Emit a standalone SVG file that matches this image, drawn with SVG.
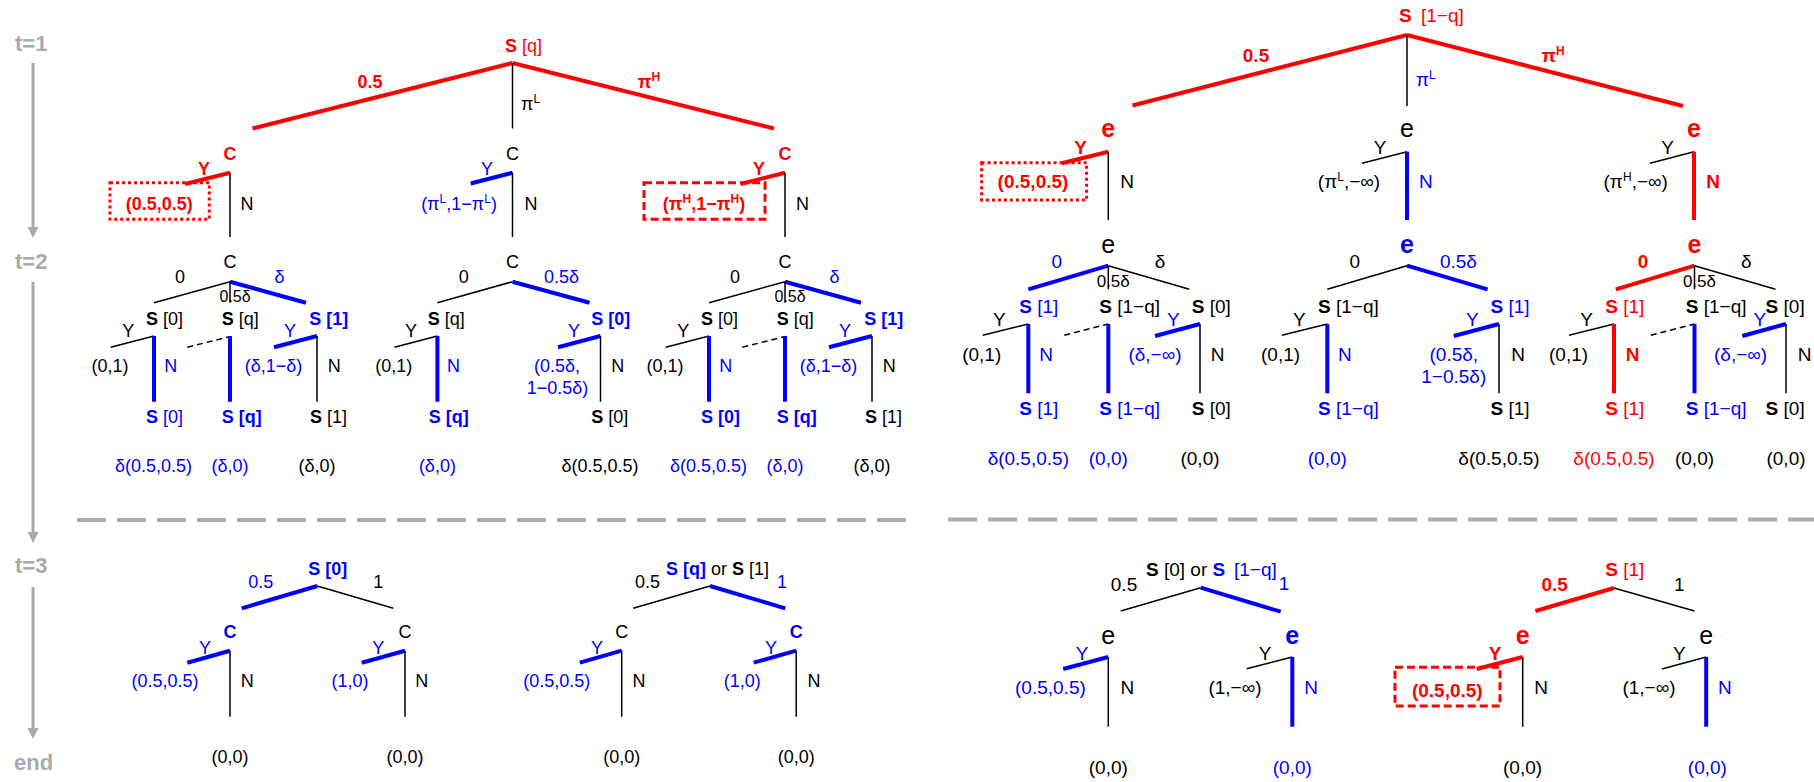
<svg xmlns="http://www.w3.org/2000/svg" width="1814" height="782" viewBox="0 0 1814 782">
<style>
svg{font-family:"Liberation Sans",Arial,Helvetica,sans-serif;font-size:18px}
text{fill:#000}
.rp{font-size:19px}
.m{text-anchor:middle}
.b{font-weight:bold}
.B{fill:#00f}
.R{fill:#f00}
.sm{font-size:16px}
.rp .sm{font-size:17px}
.e{font-size:25px}
.sup{font-size:12px}
.tl{font-size:22px;font-weight:bold;fill:#aaa}
.k{stroke:#000;stroke-width:1.5}
.kb{stroke:#00f;stroke-width:4}
.kr{stroke:#f00;stroke-width:4}
.kd{stroke:#000;stroke-width:1.5;stroke-dasharray:6 4}
.ax{stroke:#aaa;stroke-width:3}
.axh{fill:#aaa}
.sep{stroke:#aaa;stroke-width:4;stroke-dasharray:29 11}
.dot{fill:none;stroke:#f00;stroke-width:3;stroke-dasharray:3 3}
.dash{fill:none;stroke:#f00;stroke-width:3;stroke-dasharray:8 4}
</style>

<g id="timeline">
<text class="tl" x="15" y="51">t=1</text>
<text class="tl" x="15" y="269">t=2</text>
<text class="tl" x="15" y="573">t=3</text>
<text class="tl" x="14" y="770">end</text>
<line class="ax" x1="33" y1="63" x2="33" y2="228"/>
<polygon class="axh" points="27.5,227 38.5,227 33,238"/>
<line class="ax" x1="33" y1="282" x2="33" y2="533"/>
<polygon class="axh" points="27.5,532 38.5,532 33,543"/>
<line class="ax" x1="33" y1="587" x2="33" y2="729"/>
<polygon class="axh" points="27.5,728 38.5,728 33,739"/>
<line class="sep" x1="77" y1="520" x2="906" y2="520"/>
<line class="sep" x1="948" y1="519.5" x2="1814" y2="519.5"/>
</g>

<g id="connectors">
<!-- left t=1 -->
<line class="kr" x1="512.5" y1="63" x2="252.5" y2="128.5"/>
<line class="kr" x1="512.5" y1="63" x2="774" y2="128.5"/>
<line class="k" x1="512.5" y1="63" x2="512.5" y2="128.5"/>
<line class="kr" x1="230" y1="172.7" x2="185" y2="184"/>
<line class="k" x1="230" y1="172.7" x2="230" y2="237"/>
<line class="kb" x1="512.5" y1="172.7" x2="470.7" y2="183.5"/>
<line class="k" x1="512.5" y1="172.7" x2="512.5" y2="237"/>
<line class="kr" x1="785" y1="172.7" x2="740.5" y2="184"/>
<line class="k" x1="785" y1="172.7" x2="785" y2="237"/>
<!-- left t=2 subtree 1 -->
<line class="k" x1="230" y1="281.7" x2="154" y2="302.7"/>
<line class="kb" x1="230" y1="281.7" x2="306" y2="302.7"/>
<line class="k" x1="230" y1="281.7" x2="230" y2="302.7"/>
<line class="k" x1="154" y1="336" x2="110.7" y2="347.3"/>
<line class="kb" x1="154" y1="336" x2="154" y2="401.7"/>
<line class="kd" x1="187.3" y1="347.3" x2="230" y2="336.5"/>
<line class="kb" x1="230" y1="336" x2="230" y2="401.7"/>
<line class="kb" x1="317" y1="336" x2="274" y2="347.3"/>
<line class="k" x1="317" y1="336" x2="317" y2="401.7"/>
<!-- left t=2 subtree 2 -->
<line class="k" x1="512.5" y1="281.7" x2="437.4" y2="302.7"/>
<line class="kb" x1="512.5" y1="281.7" x2="589.6" y2="302.7"/>
<line class="k" x1="437.4" y1="336" x2="394.4" y2="347.3"/>
<line class="kb" x1="437.4" y1="336" x2="437.4" y2="401.7"/>
<line class="kb" x1="600.5" y1="336" x2="558" y2="347.3"/>
<line class="k" x1="600.5" y1="336" x2="600.5" y2="401.7"/>
<!-- left t=2 subtree 3 -->
<line class="k" x1="785" y1="281.7" x2="709" y2="302.7"/>
<line class="kb" x1="785" y1="281.7" x2="861" y2="302.7"/>
<line class="k" x1="785" y1="281.7" x2="785" y2="302.7"/>
<line class="k" x1="709" y1="336" x2="665.7" y2="347.3"/>
<line class="kb" x1="709" y1="336" x2="709" y2="401.7"/>
<line class="kd" x1="742.3" y1="347.3" x2="785" y2="336.5"/>
<line class="kb" x1="785" y1="336" x2="785" y2="401.7"/>
<line class="kb" x1="872" y1="336" x2="829" y2="347.3"/>
<line class="k" x1="872" y1="336" x2="872" y2="401.7"/>
<!-- left t=3 -->
<line class="kb" x1="317.3" y1="586" x2="241.7" y2="608.3"/>
<line class="k" x1="317.3" y1="586" x2="393.3" y2="608.3"/>
<line class="kb" x1="230" y1="650.7" x2="187.3" y2="662.7"/>
<line class="k" x1="230" y1="650.7" x2="230" y2="716.7"/>
<line class="kb" x1="405" y1="650.7" x2="361.7" y2="662.7"/>
<line class="k" x1="405" y1="650.7" x2="405" y2="716.7"/>
<line class="k" x1="710" y1="586" x2="633.2" y2="608.3"/>
<line class="kb" x1="710" y1="586" x2="785.3" y2="608.3"/>
<line class="kb" x1="621.7" y1="650.7" x2="579.8" y2="662.7"/>
<line class="k" x1="621.7" y1="650.7" x2="621.7" y2="716.7"/>
<line class="kb" x1="796.2" y1="650.7" x2="753.7" y2="662.7"/>
<line class="k" x1="796.2" y1="650.7" x2="796.2" y2="716.7"/>
<!-- right t=1 -->
<line class="kr" x1="1407" y1="35" x2="1132.5" y2="105.5"/>
<line class="kr" x1="1407" y1="35" x2="1683" y2="106"/>
<line class="k" x1="1407" y1="35" x2="1407" y2="106"/>
<line class="kr" x1="1108.3" y1="151.7" x2="1061.7" y2="163.3"/>
<line class="k" x1="1108.3" y1="151.7" x2="1108.3" y2="220"/>
<line class="k" x1="1407" y1="151.7" x2="1362" y2="163.3"/>
<line class="kb" x1="1407" y1="151.7" x2="1407" y2="220"/>
<line class="k" x1="1694" y1="151.7" x2="1650" y2="163.3"/>
<line class="kr" x1="1694" y1="151.7" x2="1694" y2="220"/>
<!-- right t=2 subtree 1 -->
<line class="kb" x1="1108.3" y1="265.7" x2="1028.3" y2="289.3"/>
<line class="k" x1="1108.3" y1="265.7" x2="1189.3" y2="289.3"/>
<line class="k" x1="1108.3" y1="265.7" x2="1108.3" y2="289.3"/>
<line class="k" x1="1028.3" y1="324" x2="982.7" y2="335.3"/>
<line class="kb" x1="1028.3" y1="324" x2="1028.3" y2="393.3"/>
<line class="kd" x1="1064.3" y1="335.3" x2="1108.3" y2="324"/>
<line class="kb" x1="1108.3" y1="324" x2="1108.3" y2="393.3"/>
<line class="kb" x1="1200" y1="324" x2="1155" y2="336"/>
<line class="k" x1="1200" y1="324" x2="1200" y2="393.3"/>
<!-- right t=2 subtree 2 -->
<line class="k" x1="1407" y1="265.7" x2="1327.3" y2="289.3"/>
<line class="kb" x1="1407" y1="265.7" x2="1487.6" y2="289.3"/>
<line class="k" x1="1327.3" y1="324" x2="1281.8" y2="335.3"/>
<line class="kb" x1="1327.3" y1="324" x2="1327.3" y2="393.3"/>
<line class="kb" x1="1499" y1="324" x2="1453.8" y2="336"/>
<line class="k" x1="1499" y1="324" x2="1499" y2="393.3"/>
<!-- right t=2 subtree 3 -->
<line class="kr" x1="1694.5" y1="265.7" x2="1615.8" y2="289.3"/>
<line class="k" x1="1694.5" y1="265.7" x2="1775.5" y2="289.3"/>
<line class="k" x1="1694.5" y1="265.7" x2="1694.5" y2="289.3"/>
<line class="k" x1="1614" y1="324" x2="1569" y2="335.3"/>
<line class="kr" x1="1614" y1="324" x2="1614" y2="393.3"/>
<line class="kd" x1="1650.8" y1="335.3" x2="1694.5" y2="324"/>
<line class="kb" x1="1694.5" y1="324" x2="1694.5" y2="393.3"/>
<line class="kb" x1="1786" y1="324" x2="1742.3" y2="336"/>
<line class="k" x1="1786" y1="324" x2="1786" y2="393.3"/>
<!-- right t=3 -->
<line class="k" x1="1200.7" y1="587.7" x2="1120.7" y2="611"/>
<line class="kb" x1="1200.7" y1="587.7" x2="1280.7" y2="611.7"/>
<line class="kb" x1="1108.3" y1="657" x2="1063.2" y2="669"/>
<line class="k" x1="1108.3" y1="657" x2="1108.3" y2="726.7"/>
<line class="k" x1="1292.3" y1="657" x2="1246.7" y2="668.7"/>
<line class="kb" x1="1292.3" y1="657" x2="1292.3" y2="726.7"/>
<line class="kr" x1="1614" y1="588" x2="1535.4" y2="611"/>
<line class="k" x1="1614" y1="588" x2="1694.5" y2="611"/>
<line class="kr" x1="1522.7" y1="657" x2="1476.7" y2="669"/>
<line class="k" x1="1522.7" y1="657" x2="1522.7" y2="726.7"/>
<line class="k" x1="1706.2" y1="657" x2="1661.9" y2="669"/>
<line class="kb" x1="1706.2" y1="657" x2="1706.2" y2="726.7"/>
</g>

<g id="left-panel">
<g id="L-root">
<text class="R" x="505" y="52"><tspan class="b">S</tspan> [q]</text>
<text class="R b m" x="370" y="88">0.5</text>
<text class="R b m" x="649" y="88">π<tspan class="sup" dy="-7">H</tspan></text>
<text x="521" y="110">π<tspan class="sup" dy="-7">L</tspan></text>
</g>
<g id="L-t1-a">
<text class="R b m" x="230" y="160">C</text>
<text class="R b m" x="204" y="175">Y</text>
<rect class="dot" x="110" y="182.7" width="99.3" height="36.6"/>
<text class="R b m" x="159.3" y="210">(0.5,0.5)</text>
<text class="m" x="247" y="210">N</text>
</g>
<g id="L-t1-b">
<text class="m" x="512.5" y="160">C</text>
<text class="B m" x="487" y="175">Y</text>
<text class="B m" x="459" y="210">(π<tspan class="sup" dy="-7">L</tspan><tspan dy="7">,1−π</tspan><tspan class="sup" dy="-7">L</tspan><tspan dy="7">)</tspan></text>
<text class="m" x="531" y="210">N</text>
</g>
<g id="L-t1-c">
<text class="R b m" x="785" y="160">C</text>
<text class="R b m" x="759" y="175">Y</text>
<rect class="dash" x="644" y="182.7" width="121" height="36.6"/>
<text class="R b m" x="704" y="210">(π<tspan class="sup" dy="-7">H</tspan><tspan dy="7">,1−π</tspan><tspan class="sup" dy="-7">H</tspan><tspan dy="7">)</tspan></text>
<text class="m" x="802.5" y="210">N</text>
</g>

<g id="L-t2-a">
<text class="m" x="230" y="268">C</text>
<text class="m" x="180" y="283">0</text>
<text class="B m" x="279.5" y="283">δ</text>
<text class="sm" x="219.5" y="301.5">0.5δ</text>
<text x="146" y="325"><tspan class="b">S</tspan> [0]</text>
<text x="221.7" y="325"><tspan class="b">S</tspan> [q]</text>
<text class="b B" x="309.3" y="325">S [1]</text>
<text class="m" x="128.3" y="337.3">Y</text>
<text class="m" x="110" y="371.7">(0,1)</text>
<text class="B m" x="170.7" y="371.7">N</text>
<text class="B m" x="290" y="337.3">Y</text>
<text class="B m" x="273.5" y="371.7">(δ,1−δ)</text>
<text class="m" x="334.3" y="371.7">N</text>
<text class="B" x="146" y="423.3"><tspan class="b">S</tspan> [0]</text>
<text class="b B" x="221.7" y="423.3">S [q]</text>
<text x="310" y="423.3"><tspan class="b">S</tspan> [1]</text>
<text class="B m" x="153.5" y="471.7">δ(0.5,0.5)</text>
<text class="B m" x="230" y="471.7">(δ,0)</text>
<text class="m" x="317" y="471.7">(δ,0)</text>
</g>
<g id="L-t2-b">
<text class="m" x="512.5" y="268">C</text>
<text class="m" x="463.8" y="283">0</text>
<text class="B m" x="561.4" y="283">0.5δ</text>
<text x="427.7" y="325"><tspan class="b">S</tspan> [q]</text>
<text class="b B" x="591.3" y="325">S [0]</text>
<text class="m" x="411" y="337.3">Y</text>
<text class="m" x="393.8" y="371.7">(0,1)</text>
<text class="B m" x="453.5" y="371.7">N</text>
<text class="B m" x="574" y="337.3">Y</text>
<text class="B m" x="557" y="371.7">(0.5δ,</text>
<text class="B m" x="557.5" y="393.5">1−0.5δ)</text>
<text class="m" x="617.7" y="371.7">N</text>
<text class="b B" x="428.8" y="423.3">S [q]</text>
<text x="591.3" y="423.3"><tspan class="b">S</tspan> [0]</text>
<text class="B m" x="437.4" y="471.7">(δ,0)</text>
<text class="m" x="600" y="471.7">δ(0.5,0.5)</text>
</g>
<g id="L-t2-c">
<text class="m" x="785" y="268">C</text>
<text class="m" x="735" y="283">0</text>
<text class="B m" x="834.5" y="283">δ</text>
<text class="sm" x="774.5" y="301.5">0.5δ</text>
<text x="701" y="325"><tspan class="b">S</tspan> [0]</text>
<text x="776.7" y="325"><tspan class="b">S</tspan> [q]</text>
<text class="b B" x="864.3" y="325">S [1]</text>
<text class="m" x="683.3" y="337.3">Y</text>
<text class="m" x="665" y="371.7">(0,1)</text>
<text class="B m" x="725.7" y="371.7">N</text>
<text class="B m" x="845" y="337.3">Y</text>
<text class="B m" x="828.5" y="371.7">(δ,1−δ)</text>
<text class="m" x="889.3" y="371.7">N</text>
<text class="b B" x="701" y="423.3">S [0]</text>
<text class="b B" x="776.7" y="423.3">S [q]</text>
<text x="865" y="423.3"><tspan class="b">S</tspan> [1]</text>
<text class="B m" x="708.5" y="471.7">δ(0.5,0.5)</text>
<text class="B m" x="785" y="471.7">(δ,0)</text>
<text class="m" x="872" y="471.7">(δ,0)</text>
</g>

<g id="L-t3-a">
<text class="b B" x="308.3" y="575">S [0]</text>
<text class="B m" x="260.7" y="588.3">0.5</text>
<text class="m" x="378.3" y="588.3">1</text>
<text class="B b m" x="230" y="638.3">C</text>
<text class="B m" x="205" y="654">Y</text>
<text class="B m" x="165" y="686.7">(0.5,0.5)</text>
<text class="m" x="247.3" y="686.7">N</text>
<text class="m" x="405" y="638.3">C</text>
<text class="B m" x="378.3" y="654">Y</text>
<text class="B m" x="350" y="686.7">(1,0)</text>
<text class="m" x="421.7" y="686.7">N</text>
<text class="m" x="230" y="763.3">(0,0)</text>
<text class="m" x="405" y="763.3">(0,0)</text>
</g>
<g id="L-t3-b">
<text x="666" y="575"><tspan class="b B">S [q]</tspan> or <tspan class="b">S</tspan> [1]</text>
<text class="m" x="647.5" y="588.3">0.5</text>
<text class="B m" x="781.9" y="588.3">1</text>
<text class="m" x="621.7" y="638.3">C</text>
<text class="B m" x="597" y="654">Y</text>
<text class="B m" x="556.8" y="686.7">(0.5,0.5)</text>
<text class="m" x="639" y="686.7">N</text>
<text class="B b m" x="796.2" y="638.3">C</text>
<text class="B m" x="771" y="654">Y</text>
<text class="B m" x="742.3" y="686.7">(1,0)</text>
<text class="m" x="814" y="686.7">N</text>
<text class="m" x="621.7" y="763.3">(0,0)</text>
<text class="m" x="796.2" y="763.3">(0,0)</text>
</g>
</g>

<g id="right-panel" class="rp">
<g id="R-root">
<text class="R" x="1399" y="22"><tspan class="b">S</tspan><tspan x="1421">[1−q]</tspan></text>
<text class="R b m" x="1256" y="62">0.5</text>
<text class="R b m" x="1553" y="62">π<tspan class="sup" dy="-7">H</tspan></text>
<text class="B" x="1416" y="86">π<tspan class="sup" dy="-7">L</tspan></text>
</g>
<g id="R-t1-a">
<text class="R b m e" x="1108.3" y="137">e</text>
<text class="R b m" x="1080.7" y="154">Y</text>
<rect class="dot" x="981.6" y="162.7" width="105" height="37.3"/>
<text class="R b m" x="1033" y="188.3">(0.5,0.5)</text>
<text class="m" x="1127" y="188.3">N</text>
</g>
<g id="R-t1-b">
<text class="m e" x="1407" y="137">e</text>
<text class="m" x="1380" y="154">Y</text>
<text class="m" x="1349" y="188.3">(π<tspan class="sup" dy="-7">L</tspan><tspan dy="7">,−∞)</tspan></text>
<text class="B m" x="1425.8" y="188.3">N</text>
</g>
<g id="R-t1-c">
<text class="R b m e" x="1694" y="137">e</text>
<text class="m" x="1667.7" y="154">Y</text>
<text class="m" x="1635.7" y="188.3">(π<tspan class="sup" dy="-7">H</tspan><tspan dy="7">,−∞)</tspan></text>
<text class="R b m" x="1713" y="188.3">N</text>
</g>

<g id="R-t2-a">
<text class="m e" x="1108.3" y="252.7">e</text>
<text class="B m" x="1056.7" y="268.3">0</text>
<text class="m" x="1160" y="268.3">δ</text>
<text class="sm" x="1096.7" y="286.7">0.5δ</text>
<text class="B" x="1019.3" y="313.3"><tspan class="b">S</tspan> [1]</text>
<text x="1099.3" y="313.3"><tspan class="b">S</tspan> [1−q]</text>
<text x="1191.7" y="313.3"><tspan class="b">S</tspan> [0]</text>
<text class="m" x="999.3" y="326">Y</text>
<text class="m" x="981.7" y="361">(0,1)</text>
<text class="B m" x="1046" y="361">N</text>
<text class="B m" x="1173.3" y="326">Y</text>
<text class="B m" x="1155" y="361">(δ,−∞)</text>
<text class="m" x="1217.7" y="361">N</text>
<text class="B" x="1019.3" y="415"><tspan class="b">S</tspan> [1]</text>
<text class="B" x="1099.3" y="415"><tspan class="b">S</tspan> [1−q]</text>
<text x="1191.7" y="415"><tspan class="b">S</tspan> [0]</text>
<text class="B m" x="1028.3" y="465">δ(0.5,0.5)</text>
<text class="B m" x="1108.3" y="465">(0,0)</text>
<text class="m" x="1200" y="465">(0,0)</text>
</g>
<g id="R-t2-b">
<text class="B b m e" x="1407" y="252.7">e</text>
<text class="m" x="1354.7" y="268.3">0</text>
<text class="B m" x="1458.4" y="268.3">0.5δ</text>
<text x="1318" y="313.3"><tspan class="b">S</tspan> [1−q]</text>
<text class="B" x="1490.5" y="313.3"><tspan class="b">S</tspan> [1]</text>
<text class="m" x="1299.3" y="326">Y</text>
<text class="m" x="1280.6" y="361">(0,1)</text>
<text class="B m" x="1344.8" y="361">N</text>
<text class="B m" x="1472.4" y="326">Y</text>
<text class="B m" x="1453.8" y="361">(0.5δ,</text>
<text class="B m" x="1453.8" y="383">1−0.5δ)</text>
<text class="m" x="1518" y="361">N</text>
<text class="B" x="1318" y="415"><tspan class="b">S</tspan> [1−q]</text>
<text x="1490.5" y="415"><tspan class="b">S</tspan> [1]</text>
<text class="B m" x="1327.3" y="465">(0,0)</text>
<text class="m" x="1499" y="465">δ(0.5,0.5)</text>
</g>
<g id="R-t2-c">
<text class="R b m e" x="1694.5" y="252.7">e</text>
<text class="R b m" x="1643" y="268.3">0</text>
<text class="m" x="1746.4" y="268.3">δ</text>
<text class="sm" x="1682.9" y="286.7">0.5δ</text>
<text class="R" x="1605.3" y="313.3"><tspan class="b">S</tspan> [1]</text>
<text x="1685.8" y="313.3"><tspan class="b">S</tspan> [1−q]</text>
<text x="1765.6" y="313.3"><tspan class="b">S</tspan> [0]</text>
<text class="m" x="1586.7" y="326">Y</text>
<text class="m" x="1568.6" y="361">(0,1)</text>
<text class="R b m" x="1632.7" y="361">N</text>
<text class="B m" x="1759.8" y="326">Y</text>
<text class="B m" x="1740.6" y="361">(δ,−∞)</text>
<text class="m" x="1804.7" y="361">N</text>
<text class="R" x="1605.3" y="415"><tspan class="b">S</tspan> [1]</text>
<text class="B" x="1685.8" y="415"><tspan class="b">S</tspan> [1−q]</text>
<text x="1765.6" y="415"><tspan class="b">S</tspan> [0]</text>
<text class="R m" x="1614" y="465">δ(0.5,0.5)</text>
<text class="m" x="1694.5" y="465">(0,0)</text>
<text class="m" x="1786" y="465">(0,0)</text>
</g>

<g id="R-t3-a">
<text x="1146" y="576"><tspan class="b">S</tspan> [0] or <tspan class="b B">S</tspan><tspan class="B" x="1234">[1−q]</tspan></text>
<text class="m" x="1124" y="590.7">0.5</text>
<text class="B m" x="1284" y="590">1</text>
<text class="m e" x="1108.3" y="644">e</text>
<text class="B m" x="1082" y="660">Y</text>
<text class="B m" x="1050.4" y="694">(0.5,0.5)</text>
<text class="m" x="1127.3" y="694">N</text>
<text class="B b m e" x="1292.3" y="644">e</text>
<text class="m" x="1265" y="660">Y</text>
<text class="m" x="1235" y="694">(1,−∞)</text>
<text class="B m" x="1311" y="694">N</text>
<text class="m" x="1108.3" y="774">(0,0)</text>
<text class="B m" x="1292.3" y="774">(0,0)</text>
</g>
<g id="R-t3-b">
<text class="R" x="1605.3" y="576"><tspan class="b">S</tspan> [1]</text>
<text class="R b m" x="1554.6" y="591">0.5</text>
<text class="m" x="1679.4" y="591">1</text>
<text class="R b m e" x="1522.7" y="644">e</text>
<text class="R b m" x="1495" y="660">Y</text>
<rect class="dash" x="1395" y="667.3" width="105" height="38.7"/>
<text class="R b m" x="1447.3" y="696.7">(0.5,0.5)</text>
<text class="m" x="1541.2" y="694">N</text>
<text class="m e" x="1706.2" y="644">e</text>
<text class="m" x="1679.4" y="660">Y</text>
<text class="m" x="1649" y="694">(1,−∞)</text>
<text class="B m" x="1724.8" y="694">N</text>
<text class="m" x="1522.6" y="774">(0,0)</text>
<text class="B m" x="1707.4" y="774">(0,0)</text>
</g>
</g>
</svg>
